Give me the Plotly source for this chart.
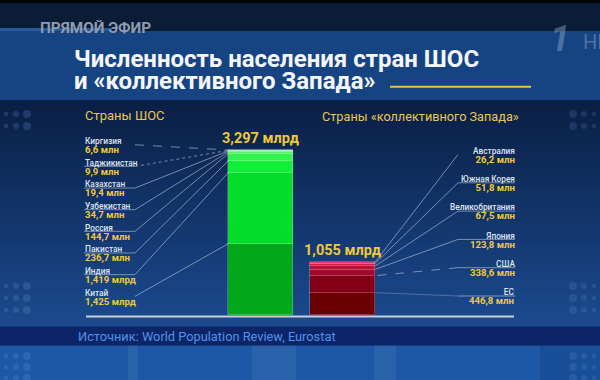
import plotly.graph_objects as go

# ---------------- data ----------------
sco_countries = ["Китай", "Индия", "Пакистан", "Россия", "Узбекистан",
                 "Казахстан", "Таджикистан", "Киргизия"]
sco_values = [1425, 1419, 236.7, 144.7, 34.7, 19.4, 9.9, 6.6]          # млн
sco_colors = ["#00a81a", "#04dc2a", "#12ee38", "#34f250", "#52f466",
              "#6ef47c", "#86f694", "#a6f8b0"]

west_countries = ["ЕС", "США", "Япония", "Великобритания", "Южная Корея", "Австралия"]
west_values = [446.8, 338.6, 123.8, 67.5, 51.8, 26.2]                   # млн
west_colors = ["#6a0000", "#820016", "#a00a2c", "#bc1038", "#d81844", "#f03866"]

group_x = [0, 1]
totals = [3297, 1055]                                                   # млн
group_titles = ["Страны ШОС", "Страны «коллективного Запада»"]

title_lines = ["Численность населения стран ШОС", "и «коллективного Запада»"]
source_text = "Источник: World Population Review, Eurostat"
live_text = "ПРЯМОЙ ЭФИР"

# ---------------- geometry ----------------
W, H = 600, 380
FONT = "Roboto"
B = 315.0                       # baseline pixel
K = (315.0 - 150.0) / 3297.0    # px per million
C0, C1 = 260.8, 342.5           # bar centres (px)
UNIT = C1 - C0
BW = 65.0                       # bar width px

x_lo = -C0 / UNIT
x_hi = (W - C0) / UNIT
y_lo = -(H - B) / K
y_hi = B / K


def px(x):
    return x / W


def py(y):
    return 1 - y / H


def val_px(v):
    """pixel y of a data value on the y axis"""
    return (1 - (v - y_lo) / (y_hi - y_lo)) * H


def fmt(v):
    if v >= 1000:
        return f"{v / 1000:.3f} млрд".replace(".", ",")
    return f"{v:.1f} млн".replace(".", ",")


fig = go.Figure()

for name, v, c in zip(sco_countries, sco_values, sco_colors):
    fig.add_trace(go.Bar(x=[group_x[0]], y=[v], name=name, width=BW / UNIT,
                         marker=dict(color=c, line=dict(color="rgba(255,255,255,0.22)", width=1)),
                         hoverinfo="skip", showlegend=False))
for name, v, c in zip(west_countries, west_values, west_colors):
    fig.add_trace(go.Bar(x=[group_x[1]], y=[v], name=name, width=BW / UNIT,
                         marker=dict(color=c, line=dict(color="rgba(255,255,255,0.22)", width=1)),
                         hoverinfo="skip", showlegend=False))

shapes = []
ann = []


def rect(x0, y0, x1, y1, color, layer="below"):
    shapes.append(dict(type="rect", xref="paper", yref="paper",
                       x0=px(x0), x1=px(x1), y0=py(y0), y1=py(y1),
                       fillcolor=color, line=dict(width=0), layer=layer))


def line(x0, y0, x1, y1, color="rgba(205,215,235,0.55)", width=1, dash="solid"):
    shapes.append(dict(type="line", xref="paper", yref="paper",
                       x0=px(x0), x1=px(x1), y0=py(y0), y1=py(y1),
                       line=dict(color=color, width=width, dash=dash), layer="above"))


# ---- background ----
rect(0, 0, W, 3, "#02060c")
rect(0, 3, W, 31, "#0a1c36")
rect(0, 28, 112, 32, "#2a5a9c")
rect(0, 31, W, 100, "#164482")
top = (10, 31, 69)
bot = (27, 74, 142)
N = 40
for i in range(N):
    t = i / (N - 1)
    col = tuple(int(round(top[j] + (bot[j] - top[j]) * t)) for j in range(3))
    y0 = 100 + (327 - 100) * i / N
    y1 = 100 + (327 - 100) * (i + 1) / N + 0.6
    rect(0, y0, W, y1, f"rgb{col}")
rect(0, 326.5, W, 345.5, "#0e2468")
rect(0, 345.5, W, H, "#1c58a6")
for a, b in [(128, 138), (252, 296), (374, 396)]:
    rect(a, 345.5, b, H, "rgba(255,255,255,0.06)")
rect(540, 345.5, W, H, "rgba(0,0,30,0.10)")

# decorative dots at edges
for cx, r in [(6, 2.2), (16, 3.0), (27, 4.0)]:
    for cy in [114, 126, 286, 298, 310, 356, 367, 378]:
        shapes.append(dict(type="circle", xref="paper", yref="paper",
                           x0=px(cx - r), x1=px(cx + r), y0=py(cy - r), y1=py(cy + r),
                           fillcolor="rgba(110,155,220,0.22)", line=dict(width=0), layer="below"))
for cx, r in [(573, 4.0), (584, 3.0), (594, 2.2)]:
    for cy in [114, 126, 286, 298, 310, 356, 367, 378]:
        shapes.append(dict(type="circle", xref="paper", yref="paper",
                           x0=px(cx - r), x1=px(cx + r), y0=py(cy - r), y1=py(cy + r),
                           fillcolor="rgba(110,155,220,0.18)", line=dict(width=0), layer="below"))

# title underline & baseline
line(390, 86.7, 531, 86.7, color="#e8c23a", width=2)
line(86, 316.5, 514, 316.5, color="#c8d0dc", width=2)

# ---- header texts ----
ann.append(dict(x=px(38), y=py(27.5), xanchor="left", yanchor="middle", text=f"<b>{live_text}</b>",
                font=dict(family=FONT, size=15.3, color="#8e9bb0")))
ann.append(dict(x=px(72), y=py(59.5), xanchor="left", yanchor="middle", text=f"<b>{title_lines[0]}</b>",
                font=dict(family=FONT, size=24, color="#f4f6fa")))
ann.append(dict(x=px(72), y=py(81), xanchor="left", yanchor="middle", text=f"<b>{title_lines[1]}</b>",
                font=dict(family=FONT, size=24, color="#f4f6fa")))
ann.append(dict(x=px(548), y=py(39), xanchor="left", yanchor="middle", text="<b><i>1</i></b>",
                font=dict(family=FONT, size=36, color="rgba(150,172,205,0.45)")))
ann.append(dict(x=px(581), y=py(42), xanchor="left", yanchor="middle", text="HD",
                font=dict(family=FONT, size=20, color="rgba(150,172,205,0.45)")))

# group titles
ann.append(dict(x=px(83), y=py(115.5), xanchor="left", yanchor="middle", text=group_titles[0],
                font=dict(family=FONT, size=13, color="#e9c84c")))
ann.append(dict(x=px(420), y=py(116.5), xanchor="center", yanchor="middle", text=group_titles[1],
                font=dict(family=FONT, size=12.7, color="#e9c84c")))

# source
ann.append(dict(x=px(76), y=py(336.5), xanchor="left", yanchor="middle", text=source_text,
                font=dict(family=FONT, size=12.8, color="#4f93e8")))

# totals above bars
for gx, tot in zip(group_x, totals):
    ann.append(dict(x=gx, y=tot, xref="x", yref="y", xanchor="center", yanchor="bottom",
                    yshift=1, text=f"<b>{fmt(tot)}</b>",
                    font=dict(family=FONT, size=14.5, color="#f0c93a")))


def label_text(name, v):
    return (f"<span style='font-size:8.3px;font-weight:500'>{name}</span><br>"
            f"<b><span style='font-size:9.6px;color:#f0c93a'>{fmt(v)}</span></b>")


LS = 7.2  # base font size -> line spacing 1.3*LS ~ 9.4 px

# ---- SCO labels & leaders (left) ----
bar_left = C0 - BW / 2
cum = 0.0
for i, (name, v) in enumerate(zip(sco_countries, sco_values)):
    cum += v
    ny = 292.3 - i * 21.65
    ann.append(dict(x=px(84), y=py(ny + 4.7), xanchor="left", yanchor="middle", align="left",
                    text=label_text(name, v), borderpad=0,
                    font=dict(family=FONT, size=LS, color="#dfe4ee")))
    uy = ny + 4.0
    if name not in ("Киргизия", "Китай"):
        line(84, uy, 135, uy)
    dash = "dash" if name == "Киргизия" else ("dot" if name == "Таджикистан" else "solid")
    line(135, uy, bar_left, val_px(cum), dash=dash)

# ---- West labels & leaders (right) ----
bar_right = C1 + BW / 2
cum = 0.0
for i, (name, v) in enumerate(zip(west_countries, west_values)):
    cum += v
    ny = 292.0 - i * 28.3
    ann.append(dict(x=px(515.5), y=py(ny + 4.7), xanchor="right", yanchor="middle", align="right",
                    text=label_text(name, v), borderpad=0,
                    font=dict(family=FONT, size=LS, color="#dfe4ee")))
    uy = ny + 4.0
    if name != "Австралия":
        line(458, uy, 515, uy)
    if name == "ЕС":
        line(bar_right, val_px(cum), 458, uy, color="rgba(205,215,235,0.3)")
    else:
        line(458, uy, bar_right, val_px(cum), dash="dash" if name == "США" else "solid")

for a in ann:
    a.setdefault("xref", "paper")
    a.setdefault("yref", "paper")
    a["showarrow"] = False

fig.update_layout(
    width=W, height=H, margin=dict(l=0, r=0, t=0, b=0),
    paper_bgcolor="#0b2147", plot_bgcolor="rgba(0,0,0,0)",
    barmode="stack", bargap=0, showlegend=False,
    xaxis=dict(range=[x_lo, x_hi], domain=[0, 1], visible=False, fixedrange=True),
    yaxis=dict(range=[y_lo, y_hi], domain=[0, 1], visible=False, fixedrange=True),
    shapes=shapes, annotations=ann,
    font=dict(family=FONT),
)

fig.write_html("out.html", config={"displayModeBar": False},
               post_script="document.body.style.margin='0';document.body.style.overflow='hidden';")
